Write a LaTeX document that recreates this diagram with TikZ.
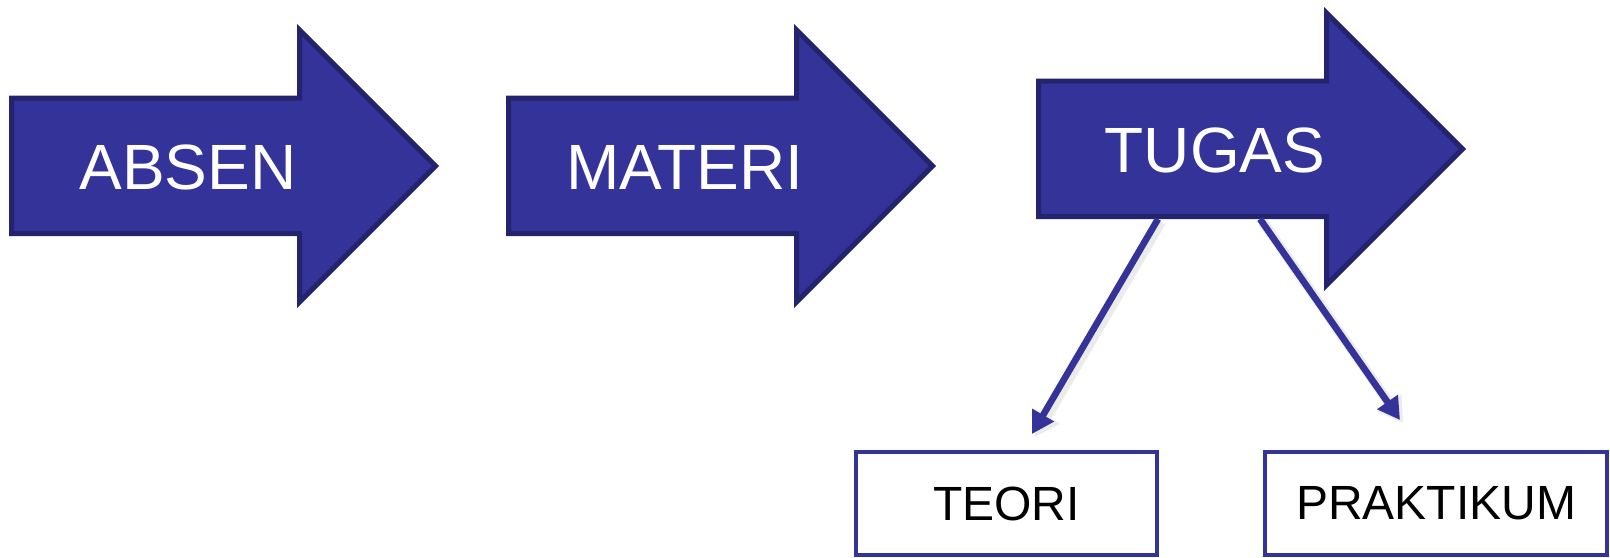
\documentclass[tikz,border=0pt]{standalone}
\usepackage{fontspec}
\setmainfont{Liberation Sans}
\usetikzlibrary{arrows.meta}
\definecolor{fillblue}{RGB}{51,51,153}
\definecolor{edgeblue}{RGB}{36,36,110}
\begin{document}
\begin{tikzpicture}[x=0.5pt,y=-0.5pt,
  bigarrow/.style={fill=fillblue,draw=edgeblue,line width=2.5pt,line join=miter},
  arrowlabel/.style={text=white,font=\fontsize{32}{38}\selectfont,inner sep=0pt},
  leafbox/.style={draw=fillblue,fill=white,line width=2pt,inner sep=0pt,minimum height=51.5pt,font=\fontsize{24}{29}\selectfont,text=black},
  connector/.style={draw=fillblue,line width=3.3pt,-{Triangle[length=11pt,width=12pt]}},
  connshadow/.style={draw=black!8,line width=5pt,-{Triangle[length=12pt,width=14pt]}}
]
\useasboundingbox (0,0) rectangle (1610,557);

% connector end points
\coordinate (srcL) at (1158,219);
\coordinate (srcR) at (1260,219);
\coordinate (endL) at (1032,434);
\coordinate (endR) at (1400,420);

% shadows of connectors
\draw[connshadow,transform canvas={shift={(1.5pt,-1.5pt)}}] (srcL) -- (endL);
\draw[connshadow,transform canvas={shift={(1.5pt,-1.5pt)}}] (srcR) -- (endR);

% ABSEN
\begin{scope}
\path[bigarrow] (11.5,98) -- (299.5,98) -- (299.5,30) -- (435.5,166) -- (299.5,302) -- (299.5,233.5) -- (11.5,233.5) -- cycle;
\node[arrowlabel] (absen) at (188,167) {ABSEN};
\end{scope}

% MATERI
\begin{scope}[shift={(497,0)}]
\path[bigarrow] (11.5,98) -- (299.5,98) -- (299.5,30) -- (435.5,166) -- (299.5,302) -- (299.5,233.5) -- (11.5,233.5) -- cycle;
\node[arrowlabel] (materi) at (188,167) {MATERI};
\end{scope}

% TUGAS
\begin{scope}[shift={(1027,-17)}]
\path[bigarrow] (11.5,98) -- (299.5,98) -- (299.5,30) -- (435.5,166) -- (299.5,302) -- (299.5,233.5) -- (11.5,233.5) -- cycle;
\node[arrowlabel] (tugas) at (188,167) {TUGAS};
\end{scope}

% connectors
\draw[connector] (srcL) -- (endL);
\draw[connector] (srcR) -- (endR);

% leaf boxes
\node[leafbox,minimum width=150.5pt] (teori) at (1006.5,503.5) {TEORI};
\node[leafbox,minimum width=171pt] (praktikum) at (1436,503.5) {PRAKTIKUM};
\end{tikzpicture}
\end{document}
